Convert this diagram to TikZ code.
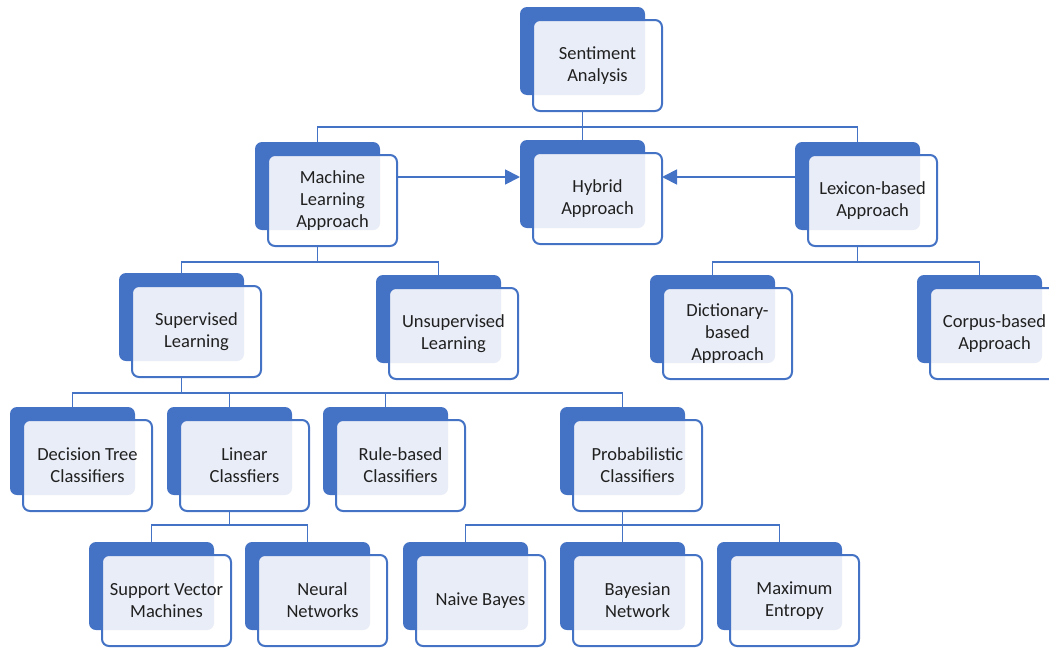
\documentclass[tikz,border=0pt]{standalone}
\usepackage{fontspec}
\setmainfont{Carlito}
\usetikzlibrary{arrows.meta}
\definecolor{dblue}{HTML}{4472C4}
\definecolor{lblue}{HTML}{E9EDF7}
\definecolor{txt}{HTML}{202020}
\tikzset{
  backbox/.style={fill=dblue, rounded corners=7pt, minimum width=125pt, minimum height=88pt, inner sep=0pt, outer sep=0pt},
  frontbox/.style={draw=dblue, line width=2pt, rounded corners=7pt, minimum width=129pt, minimum height=91pt, inner sep=0pt, outer sep=0pt, align=center, text=txt, font=\fontsize{18.5}{22}\selectfont},
  conn/.style={draw=dblue, line width=1.8pt},
  arr/.style={conn, -{Triangle[length=15pt,width=15pt]}}
}
\newcommand\tbox[4]{%
  \node[backbox] (#1b) at (#2+62.5,#3+44) {};
  \fill[white, rounded corners=7pt] (#2+13,#3+13) rectangle (#2+142,#3+104);
  \begin{scope}
    \clip[rounded corners=7pt] (#2+13,#3+13) rectangle (#2+142,#3+104);
    \fill[lblue, rounded corners=7pt] (#2,#3) rectangle (#2+125,#3+88);
  \end{scope}
  \node[frontbox] (#1) at (#2+77.5,#3+58.5) {#4};
}
\begin{document}
\begin{tikzpicture}[x=1pt,y=-1pt]
\useasboundingbox (0,0) rectangle (1049,648);
\coordinate (busA) at (0,127);
\coordinate (busB) at (0,262);
\coordinate (busC) at (0,393);
\coordinate (busD) at (0,525);
\coordinate (arrowy) at (0,177);

\tbox{SA}{520}{7}{Sentiment\\Analysis}
\tbox{ML}{255}{142}{Machine\\Learning\\Approach}
\tbox{HY}{520}{140}{Hybrid\\Approach}
\tbox{LX}{795}{142}{Lexicon-based\\Approach}
\tbox{SL}{119}{273}{Supervised\\Learning}
\tbox{UL}{376}{275}{Unsupervised\\Learning}
\tbox{DI}{650}{275}{Dictionary-\\based\\Approach}
\tbox{CO}{917}{275}{Corpus-based\\Approach}
\tbox{DT}{10}{407}{Decision Tree\\Classifiers}
\tbox{LC}{167}{407}{Linear\\Classfiers}
\tbox{RB}{323}{407}{Rule-based\\Classifiers}
\tbox{PC}{560}{407}{Probabilistic\\Classifiers}
\tbox{SV}{89}{542}{Support Vector\\Machines}
\tbox{NN}{245}{542}{Neural\\Networks}
\tbox{NB}{403}{542}{Naive Bayes}
\tbox{BN}{560}{542}{Bayesian\\Network}
\tbox{ME}{717}{542}{Maximum\\Entropy}

\draw[conn] (SAb.south |- SA.south) -- (SAb.south |- busA) -| (MLb.north);
\draw[conn] (SAb.south |- busA) -| (LXb.north);
\draw[conn] (SAb.south |- busA) -- (HYb.north);

\draw[conn] (MLb.south |- ML.south) -- (MLb.south |- busB) -| (SLb.north);
\draw[conn] (MLb.south |- busB) -| (ULb.north);

\draw[conn] (LXb.south |- LX.south) -- (LXb.south |- busB) -| (DIb.north);
\draw[conn] (LXb.south |- busB) -| (COb.north);

\draw[conn] (SLb.south |- SL.south) -- (SLb.south |- busC) -| (DTb.north);
\draw[conn] (SLb.south |- busC) -| (LCb.north);
\draw[conn] (SLb.south |- busC) -| (RBb.north);
\draw[conn] (SLb.south |- busC) -| (PCb.north);

\draw[conn] (LCb.south |- LC.south) -- (LCb.south |- busD) -| (SVb.north);
\draw[conn] (LCb.south |- busD) -| (NNb.north);

\draw[conn] (PCb.south |- PC.south) -- (PCb.south |- busD) -| (NBb.north);
\draw[conn] (PCb.south |- busD) -| (MEb.north);
\draw[conn] (PCb.south |- busD) -- (BNb.north);

\draw[arr] (ML.east |- arrowy) -- (HYb.west |- arrowy);
\draw[arr] (LXb.west |- arrowy) -- (HY.east |- arrowy);
\end{tikzpicture}
\end{document}
